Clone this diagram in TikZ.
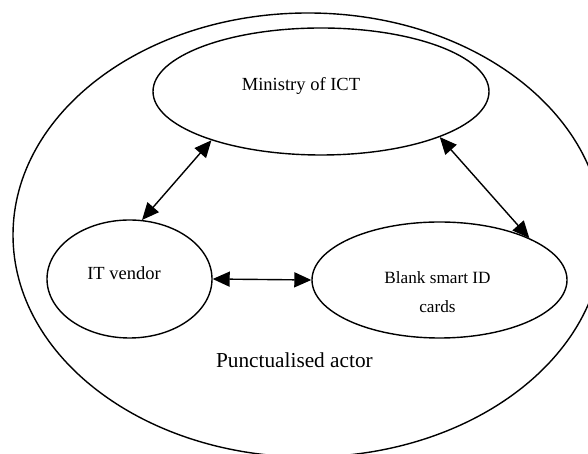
\documentclass[tikz,border=0pt]{standalone}
\usepackage{fontspec}
\setmainfont{Liberation Serif}
\usetikzlibrary{shapes.geometric,arrows.meta,calc}
\begin{document}
\begin{tikzpicture}[x=1pt,y=1pt,
  oval/.style={ellipse, draw, line width=1.4pt, inner sep=0pt},
  lbl/.style={font=\fontsize{18.5}{22}\selectfont, inner sep=0pt, anchor=base},
  link/.style={{Triangle[length=17pt,width=15pt]}-{Triangle[length=17pt,width=15pt]}, line width=1.4pt}]
\useasboundingbox (0,0) rectangle (588,454);
\clip (0,0) rectangle (588,454);

% the surrounding actor network
\node[oval, minimum width=590pt, minimum height=444pt] (outer) at (308,219) {};
\node[lbl, font=\fontsize{21.3}{25}\selectfont] (outertxt) at ($(outer.center)+(-13.6,-132.3)$) {Punctualised actor};

% the three actors
\node[oval, minimum width=336pt, minimum height=127pt] (ministry) at (321,362.5) {};
\node[lbl] (ministrytxt) at ($(ministry.center)+(-20,0.8)$) {Ministry of ICT};

\node[oval, minimum width=165pt, minimum height=118pt] (itv) at (129.5,175) {};
\node[lbl] (itvtxt) at ($(itv.center)+(-5.5,-1)$) {IT vendor};

\node[oval, minimum width=255pt, minimum height=116pt] (blank) at (439.5,174) {};
\node[lbl, align=center, font=\fontsize{17.2}{29.4}\selectfont] (blanktxt) at ($(blank.center)+(-2,-32.7)$) {Blank smart ID\\cards};

% links between actors
\draw[link] (ministry.204) -- (itv.78);
\draw[link] (ministry.339) -- (blank.25);
\draw[link] (itv.east) -- (blank.west);
\end{tikzpicture}
\end{document}
